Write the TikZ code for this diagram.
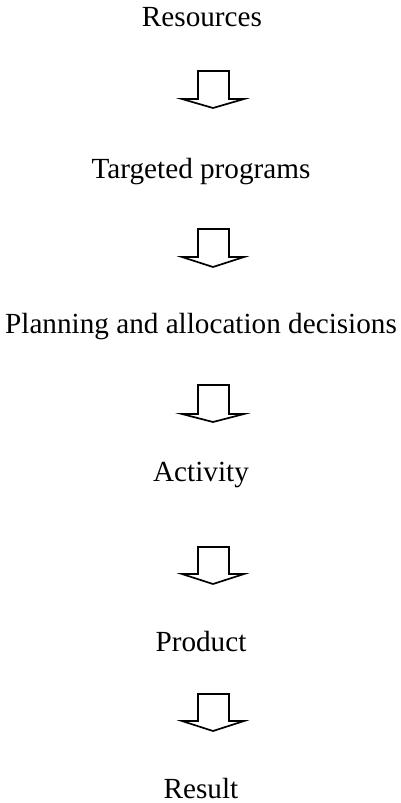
\documentclass[tikz,border=0pt]{standalone}
\usepackage{fontspec}
\setmainfont{Liberation Serif}
\begin{document}
\begin{tikzpicture}[x=0.5pt,y=-0.5pt,
  lbl/.style={anchor=base,inner sep=0pt,font=\fontsize{14.6pt}{17pt}\selectfont},
  blockarrow/.style={draw=black,line width=0.85pt,line join=miter,fill=white}]
\useasboundingbox (0,0) rectangle (401,803);
\node[lbl] (t1) at (202,26) {Resources};
\node[lbl] (t2) at (201,178) {Targeted programs};
\node[lbl] (t3) at (201,333) {Planning and allocation decisions};
\node[lbl] (t4) at (201,481) {Activity};
\node[lbl] (t5) at (201,651) {Product};
\node[lbl] (t6) at (201,798) {Result};
\foreach \top/\sh/\tip in {71/99/108, 229/257/267, 385/414/422, 547/574/584, 694/721/731}{
  \draw[blockarrow] (198,\top) -- (229,\top) -- (229,\sh) -- (244,\sh) -- (213,\tip)
    -- (182,\sh) -- (198,\sh) -- cycle;
}
\end{tikzpicture}
\end{document}
